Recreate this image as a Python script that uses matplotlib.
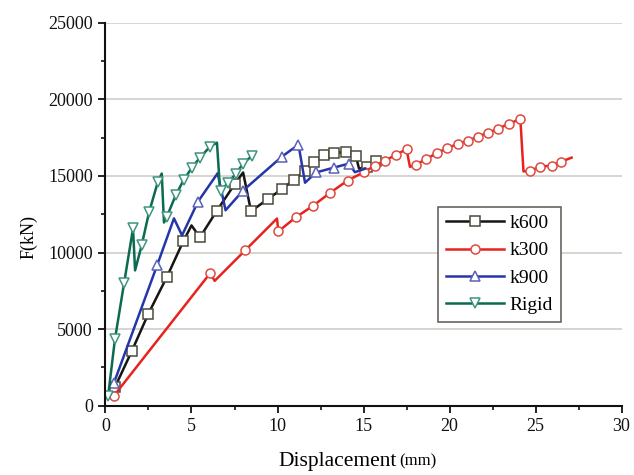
import matplotlib
matplotlib.use("Agg")
import matplotlib.pyplot as plt

# data (displacement mm, force kN)
k600_x = [0.55, 1.53, 2.48, 3.56, 4.52, 5.0, 5.49, 6.48, 7.53, 8.0, 8.46, 9.45, 10.26,
          10.96, 11.62, 12.12, 12.7, 13.3, 13.98, 14.56, 14.74, 15.2, 15.75]
k600_y = [1200, 3560, 5970, 8380, 10730, 11770, 10990, 12740, 14500, 15230, 12700, 13500,
          14150, 14750, 15350, 15900, 16370, 16530, 16550, 16300, 15480, 15600, 15950]
k600_nomark = [5, 9, 20]

k300_x = [0.5, 6.08, 6.35, 8.12, 9.97, 10.05, 11.05, 12.06, 13.08, 14.07, 15.05, 15.67,
          16.25, 16.89, 17.5, 17.7, 18.07, 18.66, 19.27, 19.85, 20.47, 21.05, 21.63,
          22.24, 22.84, 23.46, 24.12, 24.3, 24.7, 25.28, 25.93, 26.5, 27.1]
k300_y = [650, 8640, 8150, 10140, 12220, 11380, 12290, 13050, 13920, 14700, 15270, 15680,
          16000, 16390, 16750, 15600, 15740, 16130, 16490, 16820, 17090, 17290, 17570,
          17830, 18090, 18420, 18720, 15300, 15350, 15610, 15680, 15940, 16200]
k300_nomark = [2, 4, 15, 27, 32]

k900_x = [0.5, 3.0, 3.98, 4.45, 5.38, 6.52, 6.98, 8.0, 10.26, 11.22, 11.6, 12.24, 13.28,
          14.15, 14.5, 15.1]
k900_y = [1500, 9160, 12230, 11120, 13330, 15180, 12760, 14050, 16270, 17050, 14560,
          15230, 15550, 15810, 15250, 15480]
k900_nomark = [2, 3, 5, 6, 10, 14, 15]

rigid_x = [0.15, 0.55, 1.08, 1.6, 1.72, 2.1, 2.53, 3.05, 3.27, 3.4, 3.57, 4.1, 4.56,
           5.03, 5.49, 6.08, 6.48, 6.66, 6.7, 7.12, 7.59, 8.0, 8.52]
rigid_y = [600, 4340, 7990, 11570, 8830, 10460, 12620, 14640, 15160, 11960, 12350, 13790,
           14770, 15550, 16200, 16920, 17180, 14100, 14000, 14560, 15160, 15810, 16330]
rigid_nomark = [4, 8, 9, 16, 17]

x_ticks = [0, 5, 10, 15, 20, 25, 30]
y_ticks = [0, 5000, 10000, 15000, 20000, 25000]

plt.rcParams["font.family"] = ["Liberation Serif", "DejaVu Serif"]

fig = plt.figure(figsize=(6.34, 4.75), dpi=100)
ax = fig.add_axes([0.1664, 0.1463, 0.8139, 0.8053])


def marks(n, skip):
    return [i for i in range(n) if i not in skip]


series = [
    (k600_x, k600_y, k600_nomark, "k600", "#151515", "#4a4a3a", "s"),
    (k300_x, k300_y, k300_nomark, "k300", "#e8231e", "#dd4a40", "o"),
    (k900_x, k900_y, k900_nomark, "k900", "#2536a8", "#5a62b8", "^"),
    (rigid_x, rigid_y, rigid_nomark, "Rigid", "#0b6b4e", "#3f9580", "v"),
]
for xs, ys, skip, name, col, ecol, mk in series:
    ax.plot(xs, ys, color=col, lw=1.8, marker=mk, ms=6.5, mfc="white", mec=ecol,
            mew=1.1, markevery=marks(len(xs), skip), label=name)

ax.set_xlim(0, 30)
ax.set_ylim(0, 25000)
ax.set_xticks(x_ticks)
ax.set_yticks(y_ticks)
ax.set_xticks([2.5, 7.5, 12.5, 17.5, 22.5, 27.5], minor=True)
ax.set_yticks([2500, 7500, 12500, 17500, 22500], minor=True)
ax.yaxis.grid(True, color="#cfcfc8", lw=1.2)
ax.set_axisbelow(True)

for s in ["top", "right"]:
    ax.spines[s].set_visible(False)
for s in ["left", "bottom"]:
    ax.spines[s].set_linewidth(1.5)
    ax.spines[s].set_color("#111111")
ax.tick_params(which="major", direction="out", length=5, width=1.3, labelsize=13,
               colors="#111111", pad=4)
ax.tick_params(which="minor", direction="out", length=3, width=1.2, colors="#111111")

ax.set_xlabel("")
ax.text(0.565, -0.147, "Displacement", transform=ax.transAxes, fontsize=15.5,
        ha="right", va="center")
ax.text(0.57, -0.147, "(mm)", transform=ax.transAxes, fontsize=12, ha="left",
        va="center")
ax.set_ylabel("F(kN)", fontsize=13)
ax.yaxis.set_label_coords(-0.132, 0.44)

leg = ax.legend(loc="upper left", bbox_to_anchor=(0.644, 0.52), borderaxespad=0,
                fontsize=14, fancybox=False, framealpha=1, edgecolor="#666660",
                handlelength=3.0, borderpad=0.4, labelspacing=0.5, handletextpad=0.3)
leg.get_frame().set_linewidth(1.2)

fig.savefig("out.png", dpi=100)
